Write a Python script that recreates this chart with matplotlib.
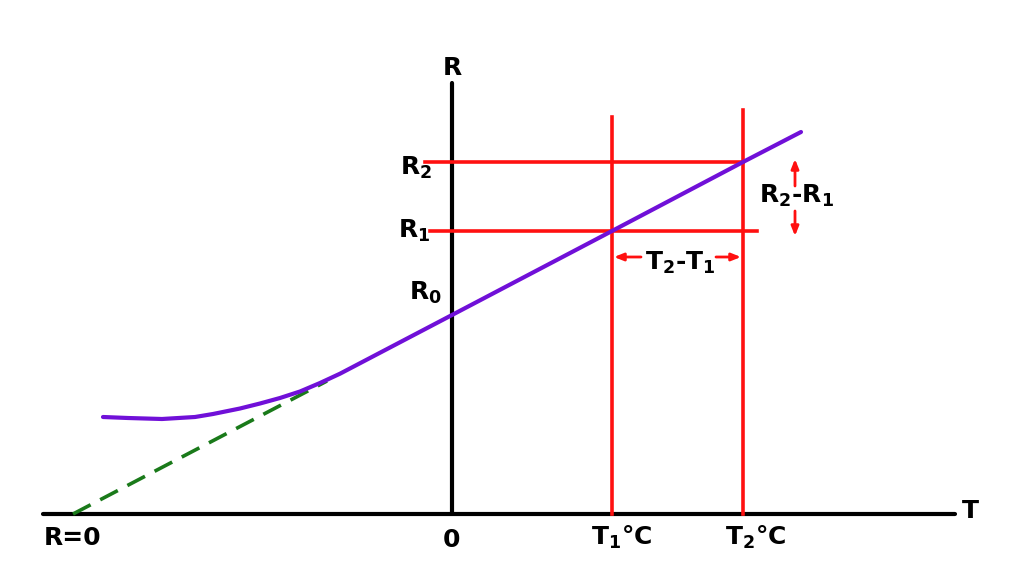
import numpy as np
import matplotlib
matplotlib.use("Agg")
import matplotlib.pyplot as plt

# chart units: T to the right of the R axis, R above the T axis
T1 = 160
T2 = 291
R1 = 283
R2 = 352
R0 = 199

# resistance curve (low temperature bend, then straight line)
curve_T = [-349, -324, -290, -257, -239, -212, -192, -172, -152, -132, -112,
           0, T1, T2, 349]
curve_R = [97, 96, 95, 97, 100, 105.5, 110.5, 116, 122.5, 131, 140.3,
           R0, R1, R2, 382]

# extrapolated straight line down to R = 0
extrap_T = [-379, -125]
extrap_R = [0, 133]

purple = "#7010d8"
red = "#ff1010"
green = "#1a7a1a"

fig = plt.figure(figsize=(10.24, 5.76), dpi=100)
ax = fig.add_axes([0, 0, 1, 1])
ax.set_xlim(-452, 572)
ax.set_ylim(-62, 514)
ax.axis("off")

# axes lines
ax.plot([-409, 503], [0, 0], color="black", lw=3, solid_capstyle="round")
ax.plot([0, 0], [0, 431], color="black", lw=3, solid_capstyle="round")

# red guide lines
ax.plot([T1, T1], [0, 397], color=red, lw=2.6)
ax.plot([T2, T2], [0, 404], color=red, lw=2.6)
ax.plot([-27, T2], [R2, R2], color=red, lw=2.6)
ax.plot([-22, 305], [R1, R1], color=red, lw=2.6)

# curves
ax.plot(extrap_T, extrap_R, color=green, lw=2.6, dashes=(5.5, 3))
ax.plot(curve_T, curve_R, color=purple, lw=3, solid_capstyle="round",
        solid_joinstyle="round")

# arrows
ap = dict(arrowstyle="-|>,head_length=0.55,head_width=0.22", color=red, lw=2,
          shrinkA=0, shrinkB=0)
ax.annotate("", xy=(T1 + 2, 257), xytext=(189, 257), arrowprops=ap)
ax.annotate("", xy=(T2 - 2, 257), xytext=(264, 257), arrowprops=ap)
ax.annotate("", xy=(343, 355), xytext=(343, 328), arrowprops=ap)
ax.annotate("", xy=(343, 278), xytext=(343, 303), arrowprops=ap)

fs = 18
kw = dict(fontsize=fs, fontweight="bold", color="black")
ax.text(0, 439, "R", ha="center", va="baseline", **kw)
ax.text(518, -4, "T", ha="center", va="baseline", **kw)
ax.text(0, -33, "0", ha="center", va="baseline", **kw)
ax.text(-379, -31, "R=0", ha="center", va="baseline", **kw)
ax.text(-20, 339, r"$\mathbf{R_2}$", ha="right", va="baseline", **kw)
ax.text(-22, 276, r"$\mathbf{R_1}$", ha="right", va="baseline", **kw)
ax.text(-10, 214, r"$\mathbf{R_0}$", ha="right", va="baseline", **kw)
ax.text(T1 + 10, -31, r"$\mathbf{T_1}$°C", ha="center", va="baseline", **kw)
ax.text(T2 + 13, -31, r"$\mathbf{T_2}$°C", ha="center", va="baseline", **kw)
ax.text(228, 244, r"$\mathbf{T_2}$-$\mathbf{T_1}$", ha="center", va="baseline", **kw)
ax.text(345, 311, r"$\mathbf{R_2}$-$\mathbf{R_1}$", ha="center", va="baseline", **kw)

fig.savefig("out.png", dpi=100, facecolor="white")
